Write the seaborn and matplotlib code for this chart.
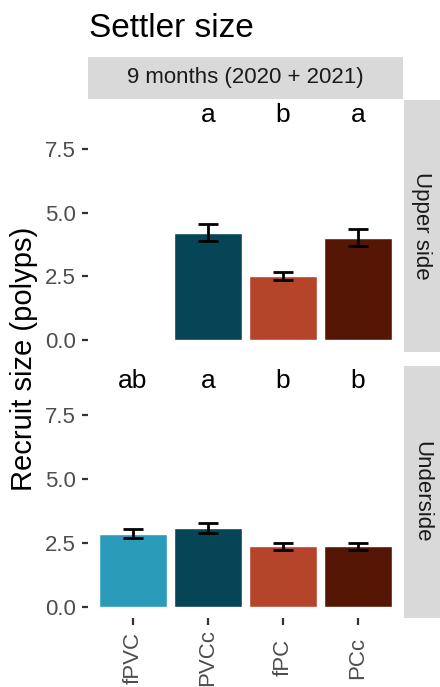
import numpy as np
import pandas as pd
import matplotlib
matplotlib.use("Agg")
import matplotlib.pyplot as plt
import seaborn as sns

# treatments and colours
treatments = ["fPVC", "PVCc", "fPC", "PCc"]
colours = ["#2a9cba", "#054556", "#b5452a", "#561606"]

# upper side (no fPVC)
upper_treat = ["PVCc", "fPC", "PCc"]
upper_mean = [4.22, 2.51, 4.01]
upper_se = [0.32, 0.15, 0.33]
upper_letters = ["a", "b", "a"]

# underside
under_treat = ["fPVC", "PVCc", "fPC", "PCc"]
under_mean = [2.86, 3.09, 2.37, 2.38]
under_se = [0.17, 0.19, 0.14, 0.14]
under_letters = ["ab", "a", "b", "b"]

y_ticks = [0, 2.5, 5.0, 7.5]
y_ticklabels = ["0.0", "2.5", "5.0", "7.5"]

sns.set_style("white")
plt.rcParams['font.family'] = ['Liberation Sans', 'DejaVu Sans']

W, H = 440, 687
fig = plt.figure(figsize=(W / 100, H / 100), dpi=100)


def box(x0, y0, x1, y1):
    # pixel box (top-left origin) -> figure fraction rect
    return [x0 / W, 1 - y1 / H, (x1 - x0) / W, (y1 - y0) / H]


palette = dict(zip(treatments, colours))


def draw_panel(ax, treat, mean, se, letters, show_x):
    df = pd.DataFrame({"Treatment": treat, "Mean": mean, "SE": se})
    sns.barplot(data=df, x="Treatment", y="Mean", hue="Treatment",
                order=treatments, hue_order=treatments, palette=palette,
                width=0.9, saturation=1, errorbar=None, legend=False, ax=ax)
    pos = [treatments.index(t) for t in treat]
    ax.errorbar(pos, df["Mean"], yerr=df["SE"], fmt="none", ecolor="black",
                elinewidth=2, capsize=7, capthick=2, zorder=5)
    for p, lab in zip(pos, letters):
        ax.text(p, 8.55, lab, ha="center", va="baseline", fontsize=19,
                color="black")
    ax.set_xlim(-0.6, 3.6)
    ax.set_ylim(-0.43, 9.42)
    ax.set_yticks(y_ticks)
    ax.set_yticklabels(y_ticklabels)
    ax.set_xlabel("")
    ax.set_ylabel("")
    for s in ax.spines.values():
        s.set_visible(False)
    ax.tick_params(axis="y", length=4.5, width=1.6, color="#333333",
                   labelcolor="#4D4D4D", labelsize=16, pad=4.3, left=True)
    if show_x:
        ax.set_xticks(range(len(treatments)))
        ax.set_xticklabels(treatments, rotation=90)
        ax.tick_params(axis="x", length=5, width=1.6, color="#333333",
                       labelcolor="#4D4D4D", labelsize=16, pad=23.5,
                       bottom=True)
        for lab in ax.get_xticklabels():
            lab.set_va("center")
    else:
        ax.set_xticks([])


ax_up = fig.add_axes(box(88, 100, 403, 351))
ax_lo = fig.add_axes(box(88, 366, 403, 618))
draw_panel(ax_up, upper_treat, upper_mean, upper_se, upper_letters, False)
draw_panel(ax_lo, under_treat, under_mean, under_se, under_letters, True)


def strip(rect, label, rotation=0):
    s = fig.add_axes(rect)
    s.set_facecolor("#D9D9D9")
    s.set_xticks([])
    s.set_yticks([])
    for sp in s.spines.values():
        sp.set_visible(False)
    s.text(0.5, 0.5, label, ha="center", va="center", rotation=rotation,
           fontsize=16, color="#1A1A1A", transform=s.transAxes)


strip(box(88, 57, 403, 99), "9 months (2020 + 2021)")
strip(box(403.5, 100, 440, 351.5), "Upper side", rotation=-90)
strip(box(403.5, 366, 440, 618), "Underside", rotation=-90)

fig.text(89 / W, 1 - 37 / H, "Settler size", fontsize=24, ha="left",
         va="baseline", color="black")
fig.text(24 / W, 1 - 358.5 / H, "Recruit size (polyps)", fontsize=21,
         rotation=90, ha="center", va="center", color="black")

fig.savefig("out.png", dpi=100)
